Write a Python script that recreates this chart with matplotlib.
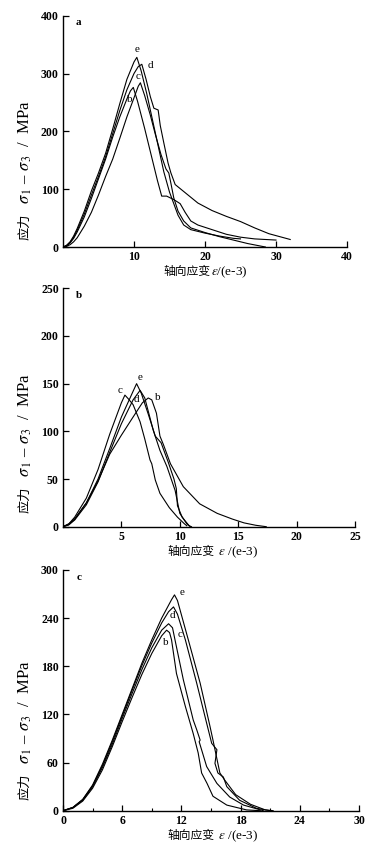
import matplotlib
matplotlib.use('Agg')
import matplotlib.pyplot as plt
import numpy as np

plt.rcParams['font.family'] = ['Liberation Serif', 'Noto Sans CJK SC']
plt.rcParams['mathtext.fontset'] = 'stix'

# ---------------- data ----------------
curve_names = ['b', 'c', 'd', 'e']

# panel a
a_b_x = [0, 0.5, 1, 1.5, 2, 3, 4, 5, 6, 7, 8, 9, 9.5, 9.9, 10.5, 11.5, 12.5, 13.3, 13.9, 14.6, 15.6, 16.5, 17.2, 18, 19, 21, 23, 25, 27, 30]
a_b_y = [0, 2, 7, 15, 26, 52, 84, 118, 152, 190, 225, 256, 270, 276, 252, 205, 155, 115, 88, 88, 82, 75, 60, 45, 38, 30, 22, 17, 14, 12]
a_c_x = [0, 0.5, 1, 1.5, 2, 3, 4, 5, 6, 7, 8, 9, 10, 10.6, 10.9, 11.5, 12.3, 13, 13.8, 14.5, 14.9, 15.2, 15.6, 16.2, 17, 18, 20, 22, 24, 26, 28.5]
a_c_y = [0, 1, 4, 9, 16, 36, 60, 90, 122, 152, 188, 225, 258, 278, 284, 262, 228, 195, 160, 135, 128, 110, 85, 62, 45, 33, 25, 18, 12, 6, 0]
a_d_x = [0, 0.5, 1, 1.5, 2, 3, 4, 5, 6, 7, 8, 9, 10, 10.6, 11.1, 11.7, 12.3, 12.8, 13.4, 13.7, 14.2, 14.8, 15.2, 15.8, 17, 19, 21, 23, 25, 27, 29, 32]
a_d_y = [0, 2, 8, 17, 29, 57, 90, 122, 156, 196, 236, 272, 300, 312, 316, 290, 260, 240, 237, 210, 180, 145, 128, 108, 96, 76, 63, 53, 44, 33, 23, 13]
a_e_x = [0, 0.5, 1, 1.5, 2, 3, 4, 5, 6, 7, 8, 9, 10, 10.4, 11, 11.8, 12.6, 13.4, 14.2, 15, 15.6, 16.2, 17, 18, 20, 22, 24, 25]
a_e_y = [0, 3, 9, 19, 32, 62, 97, 128, 162, 204, 248, 290, 320, 328, 305, 265, 220, 175, 130, 95, 75, 55, 38, 30, 24, 19, 15, 14]

# panel b
b_b_x = [0, 0.5, 1, 2, 3, 4, 5, 6, 6.8, 7.3, 7.6, 8.0, 8.3, 8.6, 9.2, 10.3, 11.7, 13.2, 14.5, 15.5, 16.5, 17.4]
b_b_y = [0, 2, 8, 25, 48, 76, 96, 115, 130, 135, 133, 119, 95, 86, 66, 42, 24, 14, 8, 4, 1.5, 0]
b_c_x = [0, 0.5, 1, 2, 3, 4, 5, 5.3, 5.6, 6.0, 6.6, 7.0, 7.45, 7.6, 7.9, 8.3, 9.1, 9.8, 10.4, 10.6]
b_c_y = [0, 3, 10, 30, 60, 97, 130, 138, 134, 128, 110, 92, 70, 66, 49, 35, 20, 10, 3, 1]
b_d_x = [0, 0.5, 1, 2, 3, 4, 5, 6, 6.6, 7.0, 7.73, 8.3, 8.9, 9.6, 10.0, 10.6, 10.9]
b_d_y = [0, 2, 7, 23, 47, 78, 108, 133, 143, 135, 101, 80, 63, 38, 14, 3, 0]
b_e_x = [0, 0.5, 1, 2, 3, 4, 5, 6, 6.3, 6.7, 7.3, 7.9, 8.4, 9.0, 9.5, 9.7, 9.8, 10.2, 10.8, 11]
b_e_y = [0, 3, 8, 25, 50, 82, 115, 142, 150, 140, 118, 95, 88, 68, 50, 40, 22, 10, 1, 0]

# panel c
c_b_x = [0, 1, 2, 3, 4, 5, 6, 7, 8, 9, 10, 10.5, 10.8, 11.0, 11.5, 12.4, 13.2, 13.7, 14.05, 14.6, 15.2, 16.6, 18.6, 20]
c_b_y = [0, 3, 12, 28, 51, 80, 111, 141, 170, 196, 218, 225, 222, 213, 171, 130, 96, 72, 47, 34, 18, 7, 1, 0]
c_c_x = [0, 1, 2, 3, 4, 5, 6, 7, 8, 9, 10, 10.7, 11.1, 11.35, 12.2, 13.2, 13.55, 13.9, 13.8, 14.56, 15.6, 16.9, 18.3, 20.3]
c_c_y = [0, 4, 13, 30, 54, 83, 115, 146, 176, 203, 225, 233, 228, 213, 163, 113, 101, 88, 86, 55, 34, 17, 7, 0]
c_d_x = [0, 1, 2, 3, 4, 5, 6, 7, 8, 9, 10, 10.7, 11.2, 11.6, 12.4, 13.55, 14.56, 15.07, 15.6, 15.4, 15.7, 16.25, 16.6, 17.9, 19.6, 21]
c_d_y = [0, 4, 14, 31, 56, 86, 118, 150, 181, 209, 234, 248, 254, 245, 213, 159, 109, 84, 76, 59, 47, 42, 30, 13, 3, 0]
c_e_x = [0, 1, 2, 3, 4, 5, 6, 7, 8, 9, 10, 11, 11.3, 11.6, 12.7, 13.9, 14.9, 15.2, 15.9, 16.4, 17.5, 19, 20.5, 21.3]
c_e_y = [0, 4, 14, 32, 58, 88, 120, 152, 184, 213, 240, 263, 269, 262, 213, 159, 105, 88, 47, 38, 20, 8, 1, 0]

# axes settings
a_xticks = [10, 20, 30, 40]
a_yticks = [0, 100, 200, 300, 400]
b_xticks = [5, 10, 15, 20, 25]
b_yticks = [0, 50, 100, 150, 200, 250]
c_xticks = [0, 6, 12, 18, 24, 30]
c_yticks = [0, 60, 120, 180, 240, 300]

ylabel_cjk = '应力'
ylabel_rest = r'  $\sigma_{\,1}$ – $\sigma_{\,3}$  /  MPa'
xlabel_cjk = '轴向应变'
xlabel_rest_a = r'$\varepsilon$/(e-3)'
xlabel_rest_bc = r' $\varepsilon$ /(e-3)'

panels = [
    dict(letter='a', curves=[(a_b_x, a_b_y), (a_c_x, a_c_y), (a_d_x, a_d_y), (a_e_x, a_e_y)],
         xlim=(0, 40), ylim=(0, 400), xticks=a_xticks, yticks=a_yticks, minor=None,
         xrest=xlabel_rest_a, xstart=163, ybottom=240,
         offsets=[(-4, -12), (-2, 6), (9, -1), (0, 8)],
         rect=[63/375, 1-247/847, 284/375, 231.3/847]),
    dict(letter='b', curves=[(b_b_x, b_b_y), (b_c_x, b_c_y), (b_d_x, b_d_y), (b_e_x, b_e_y)],
         xlim=(0, 25), ylim=(0, 250), xticks=b_xticks, yticks=b_yticks, minor=None,
         xrest=xlabel_rest_bc, xstart=167, ybottom=513,
         offsets=[(9, 0), (-5, 5), (-4, -9), (3, 6)],
         rect=[63/375, 1-526.7/847, 292/375, 238.4/847]),
    dict(letter='c', curves=[(c_b_x, c_b_y), (c_c_x, c_c_y), (c_d_x, c_d_y), (c_e_x, c_e_y)],
         xlim=(0, 30), ylim=(0, 300), xticks=c_xticks, yticks=c_yticks, minor=[3, 9, 15, 21, 27],
         xrest=xlabel_rest_bc, xstart=167, ybottom=800,
         offsets=[(-1, -12), (11, -11), (-1, -9), (8, 2)],
         rect=[63/375, 1-810.7/847, 296/375, 240.7/847]),
]

fig = plt.figure(figsize=(3.75, 8.47), dpi=100)

for p in panels:
    ax = fig.add_axes(p['rect'])
    wpx = p['rect'][2] * 375
    hpx = p['rect'][3] * 847
    bottom_px = (1 - p['rect'][1]) * 847
    for (xs, ys) in p['curves']:
        ax.plot(xs, ys, color='black', lw=0.8)
    for name, (xs, ys), off in zip(curve_names, p['curves'], p['offsets']):
        i = int(np.argmax(ys))
        ax.annotate(name, xy=(xs[i], ys[i]), xytext=off, textcoords='offset pixels',
                    ha='center', va='center', fontsize=8)
    ax.set_xlim(*p['xlim'])
    ax.set_ylim(*p['ylim'])
    ax.set_xticks(p['xticks'])
    ax.set_yticks(p['yticks'])
    if p['minor']:
        ax.set_xticks(p['minor'], minor=True)
    ax.spines['top'].set_visible(False)
    ax.spines['right'].set_visible(False)
    for s in ('left', 'bottom'):
        ax.spines[s].set_linewidth(1.0)
    ax.tick_params(direction='in', length=4, width=0.9, labelsize=8.5, pad=3)
    ax.tick_params(which='minor', direction='in', length=2.5, width=0.8)
    for lab in ax.get_xticklabels() + ax.get_yticklabels():
        lab.set_fontweight('bold')

    # x label: CJK part + latin part
    t1 = ax.text((p['xstart'] - 63) / wpx, -25.5 / hpx, xlabel_cjk, transform=ax.transAxes,
                 ha='left', va='center', fontsize=8.5)
    ax.annotate(p['xrest'], xy=(1, 0.5), xycoords=t1, xytext=(1, 0), textcoords='offset points',
                ha='left', va='center', fontsize=9.5)

    # y label
    yb = (bottom_px - p['ybottom']) / hpx
    t2 = ax.text(-38 / wpx, yb, ylabel_cjk, transform=ax.transAxes, rotation=90,
                 ha='center', va='bottom', fontsize=9.5)
    ax.annotate(ylabel_rest, xy=(0.5, 1), xycoords=t2, xytext=(0, 1), textcoords='offset points',
                rotation=90, ha='center', va='bottom', fontsize=12)

    ax.text(0.055, 0.97, p['letter'], transform=ax.transAxes, ha='center', va='center',
            fontsize=8, fontweight='bold')

fig.savefig('out.png', dpi=100)
